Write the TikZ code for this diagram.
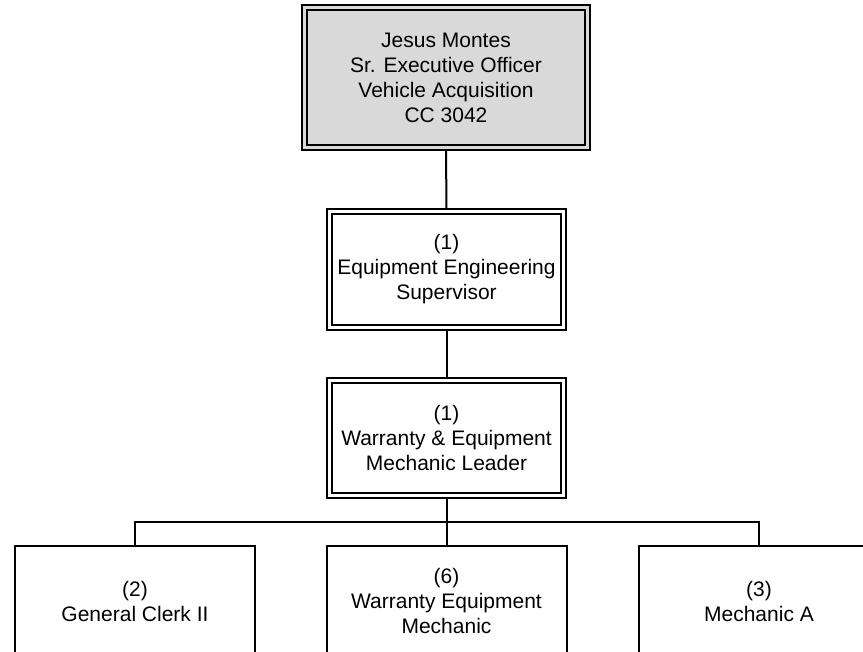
\documentclass[tikz,border=0pt]{standalone}
\usepackage{fontspec}
\setmainfont{Liberation Sans}
\begin{document}
\begin{tikzpicture}[x=1pt,y=-1pt,
  txt/.style={font=\fontsize{21}{25}\selectfont, align=center, inner sep=0pt, outer sep=0pt},
  dblbox/.style={txt, draw, line width=2.2pt},
  plainbox/.style={txt, draw, line width=2pt, minimum width=240pt, minimum height=110pt},
  innerline/.style={line width=1.3pt},
  conn/.style={line width=2pt}]
\clip (0,0) rectangle (863,652);
\fill[white] (0,0) rectangle (863,652);

\node[dblbox, fill=gray!30, minimum width=288pt, minimum height=145pt] (top) at (446,77.5)
  {Jesus Montes\\Sr. Executive Officer\\Vehicle Acquisition\\CC 3042};
\node[dblbox, minimum width=239pt, minimum height=121pt] (sup) at (446.5,269.5)
  {(1)\\Equipment Engineering\\Supervisor};
\node[dblbox, minimum width=239pt, minimum height=120pt] (lead) at (446.5,438)
  {(1)\\Warranty \& Equipment\\Mechanic Leader};

\foreach \n in {top,sup,lead}
  \draw[innerline] ([xshift=5pt,yshift=-5pt]\n.north west) rectangle ([xshift=-5pt,yshift=5pt]\n.south east);

\node[plainbox] (clerk) at (135,601) {(2)\\General Clerk II};
\node[plainbox] (mech) at (446.5,601) {(6)\\Warranty Equipment\\Mechanic};
\node[plainbox] (mecha) at (759,601) {(3)\\Mechanic A};

\coordinate (bus) at (446.5,522);
\draw[conn] (top.south) -- (sup.north);
\draw[conn] (sup.south) -- (lead.north);
\draw[conn] (lead.south) -- (bus);
\draw[conn] (bus) -- (mech.north);
\draw[conn] (clerk.north) |- (bus) -| (mecha.north);
\end{tikzpicture}
\end{document}
